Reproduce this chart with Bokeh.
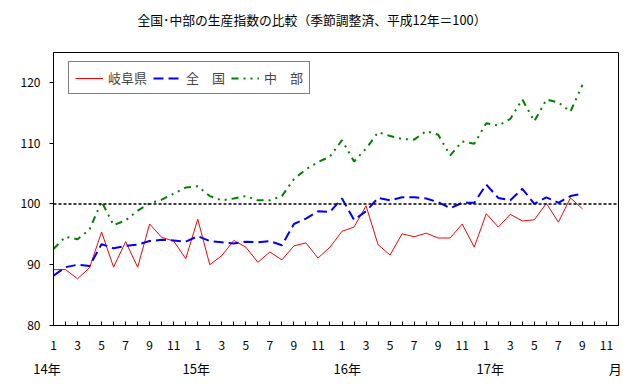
from bokeh.plotting import figure
from bokeh.models import Range1d, FixedTicker, Span, Legend, LegendItem, LinearAxis
from bokeh.embed import file_html
from bokeh.resources import INLINE

FONT = "Noto Sans CJK JP"

# ---- data (平成14年1月 〜 平成17年9月) ----
years = [14] * 12 + [15] * 12 + [16] * 12 + [17] * 9
months = [1, 2, 3, 4, 5, 6, 7, 8, 9, 10, 11, 12,
          1, 2, 3, 4, 5, 6, 7, 8, 9, 10, 11, 12,
          1, 2, 3, 4, 5, 6, 7, 8, 9, 10, 11, 12,
          1, 2, 3, 4, 5, 6, 7, 8, 9]

gifu = [89.2, 89.2, 87.7, 89.5, 95.4, 89.6, 93.8, 89.6, 96.7, 94.5, 93.9, 91.0,
        97.5, 90.0, 91.5, 94.0, 92.9, 90.4, 92.1, 90.8, 93.1, 93.6, 91.1, 92.9,
        95.5, 96.2, 99.7, 93.3, 91.6, 95.1, 94.6, 95.2, 94.4, 94.4, 96.7, 92.9,
        98.4, 96.2, 98.3, 97.2, 97.4, 100.1, 97.0, 101.0, 99.2]

zenkoku = [88.2, 89.6, 90.0, 89.8, 93.4, 92.7, 93.1, 93.3, 93.9, 94.1, 94.0, 93.8,
           94.7, 93.9, 93.7, 93.5, 93.8, 93.7, 93.9, 93.2, 96.7, 97.6, 98.8, 98.7,
           100.9, 97.4, 98.8, 101.0, 100.6, 101.1, 101.1, 100.9, 100.3, 99.3, 100.2, 100.2,
           103.2, 101.0, 100.6, 102.5, 100.0, 101.1, 100.2, 101.3, 101.7]

chubu = [92.6, 94.6, 94.2, 95.8, 100.4, 96.5, 97.3, 98.9, 100.1, 100.7, 101.7, 102.7,
         102.9, 101.3, 100.6, 100.9, 101.3, 100.6, 100.6, 101.3, 104.1, 105.7, 106.9, 107.8,
         110.5, 107.0, 109.1, 111.8, 111.2, 110.7, 110.6, 112.0, 111.4, 108.0, 110.3, 109.9,
         113.3, 112.9, 114.0, 117.2, 113.6, 117.2, 116.7, 115.2, 119.6]

month_ticks = list(range(48))
month_tick_labels = ["1", "", "3", "", "5", "", "7", "", "9", "", "11", "",
                     "1", "", "3", "", "5", "", "7", "", "9", "", "11", "",
                     "1", "", "3", "", "5", "", "7", "", "9", "", "11", "",
                     "1", "", "3", "", "5", "", "7", "", "9", "", "11", ""]
year_labels = ["14年\u3000", "15年", "16年", "17年", "月"]
y_ticks = [80, 90, 100, 110, 120]
series_names = ["岐阜県", "全　国", "中　部"]
title_text = "全国･中部の生産指数の比較（季節調整済、平成12年＝100）"

x = [(y - 14) * 12 + (m - 1) for y, m in zip(years, months)]

# ---- figure ----
p = figure(width=624, height=380, output_backend="svg", toolbar_location=None,
           x_range=Range1d(0, 47), y_range=Range1d(80, 124.93),
           min_border_left=53, min_border_right=6, min_border_top=52, min_border_bottom=55)
p.background_fill_color = "white"
p.border_fill_color = "white"
p.outline_line_color = "black"
p.outline_line_width = 1
p.xgrid.visible = False
p.ygrid.visible = False

xa = p.xaxis[0]
xa.ticker = FixedTicker(ticks=month_ticks)
xa.major_label_overrides = {t: l for t, l in zip(month_ticks, month_tick_labels)}
xa.major_tick_in = 4
xa.major_tick_out = 0
xa.minor_tick_line_color = None
xa.axis_line_color = "black"
xa.major_tick_line_color = "black"
xa.major_label_text_font = FONT
xa.major_label_text_font_size = "12px"
xa.major_label_text_color = "black"
xa.major_label_standoff = 15

# second row of x labels: years and the unit
year_pos = [0, 11.87, 24.43, 36.33, 46.73]
ya2 = LinearAxis(ticker=FixedTicker(ticks=year_pos),
                 major_label_overrides={t: l for t, l in zip(year_pos, year_labels)},
                 axis_line_color=None, major_tick_line_color=None, minor_tick_line_color=None,
                 major_label_text_font=FONT, major_label_text_font_size="13px",
                 major_label_text_color="black", major_label_standoff=0)
p.add_layout(ya2, "below")

# chart title, carried by an unadorned axis above the frame
title_pos = [21.5]
ta = LinearAxis(ticker=FixedTicker(ticks=title_pos),
                major_label_overrides={title_pos[0]: title_text},
                axis_line_color=None, major_tick_line_color=None, minor_tick_line_color=None,
                major_tick_out=0, major_tick_in=0,
                major_label_text_font=FONT, major_label_text_font_size="12.8px",
                major_label_text_color="black", major_label_standoff=24)
p.add_layout(ta, "above")

ya = p.yaxis[0]
ya.ticker = FixedTicker(ticks=y_ticks)
ya.major_tick_in = 0
ya.major_tick_out = 4
ya.minor_tick_line_color = None
ya.axis_line_color = "black"
ya.major_tick_line_color = "black"
ya.major_label_text_font = FONT
ya.major_label_text_font_size = "12px"
ya.major_label_text_color = "black"
ya.major_label_standoff = 9

r_gifu = p.line(x, gifu, line_color="#FF0000", line_width=1)
r_zen = p.line(x, zenkoku, line_color="#0000FF", line_width=2, line_dash="10 5")
r_chu = p.line(x, chubu, line_color="#008000", line_width=2, line_dash="7 5 2 5 2 5")

p.add_layout(Span(location=100, dimension="width", line_color="black",
                  line_width=1.5, line_dash="3 2"))

legend = Legend(items=[LegendItem(label=series_names[0], renderers=[r_gifu]),
                       LegendItem(label=series_names[1], renderers=[r_zen]),
                       LegendItem(label=series_names[2], renderers=[r_chu])],
                location=(15, 231), orientation="horizontal",
                border_line_color="black", border_line_width=1,
                background_fill_color="white", background_fill_alpha=1,
                label_text_font=FONT, label_text_font_size="13px",
                glyph_width=28, glyph_height=16, label_height=16,
                label_standoff=5, spacing=6, padding=6, margin=0)
p.add_layout(legend)

open("out.html", "w").write(file_html(p, INLINE))
